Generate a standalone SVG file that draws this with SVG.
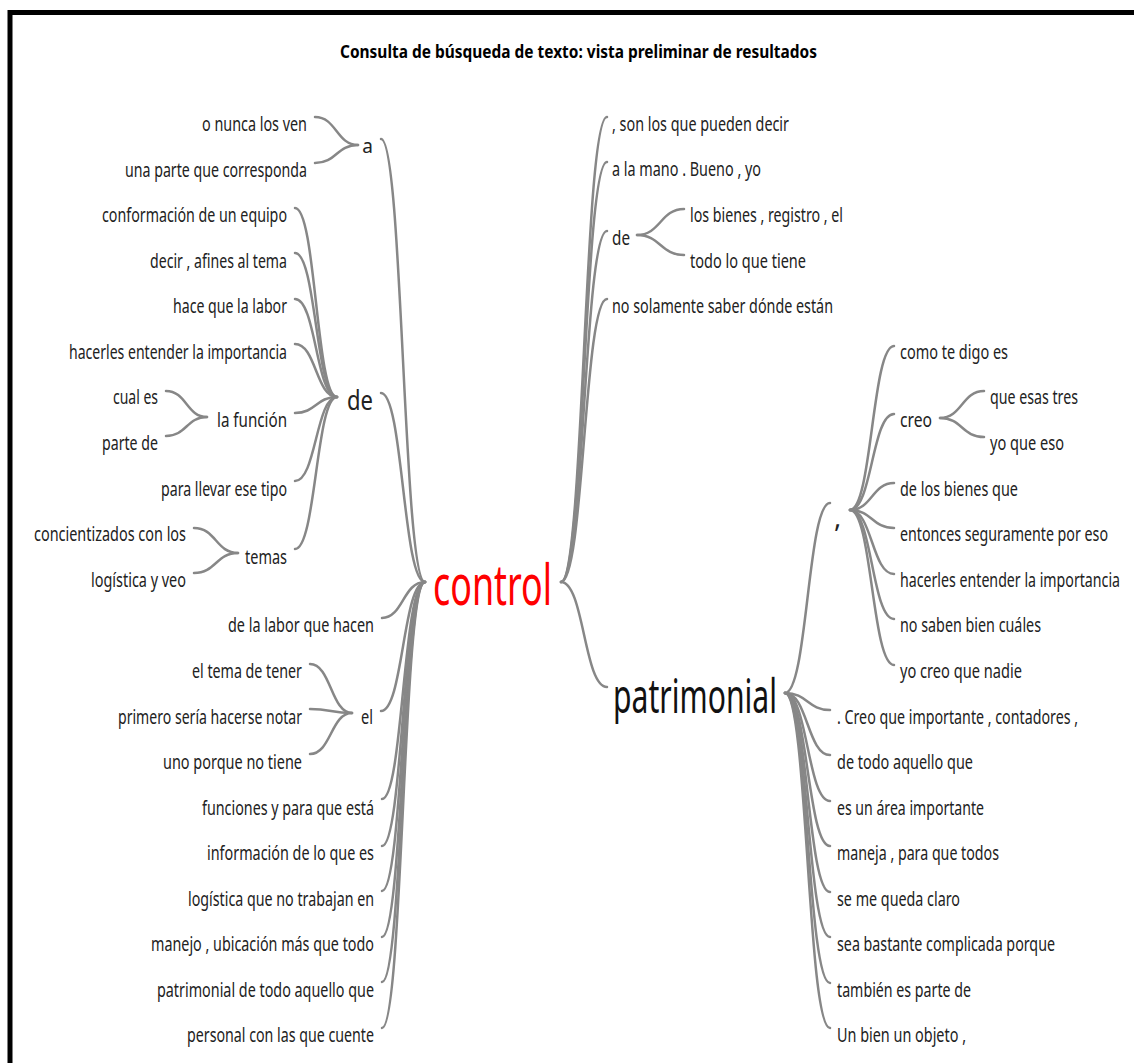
<svg xmlns="http://www.w3.org/2000/svg" width="1134" height="1063" viewBox="0 0 1134 1063">
<style>
.t{font-family:"Noto Sans","Open Sans",sans-serif;font-size:19px;fill:#222}
.l{text-anchor:end}
.m{font-size:27px}
.title{font-family:"Noto Sans","Open Sans",sans-serif;font-size:18px;font-weight:bold;fill:#000}
.c{fill:none;stroke:#878787;stroke-width:2.5;stroke-linecap:round}
</style>
<rect x="0" y="0" width="1134" height="1063" fill="#fff"/>
<path d="M10,1063 V12.5 H1134" fill="none" stroke="#000" stroke-width="5"/>
<text class="title" x="340" y="58" textLength="477" lengthAdjust="spacingAndGlyphs">Consulta de búsqueda de texto: vista preliminar de resultados</text>

<g id="connectors" class="c">
<path d="M315,117 C336.5,117 336.5,145 358,145"/>
<path d="M315,163 C336.5,163 336.5,145 358,145"/>
<path d="M381,139 C403,139 403,582 425,582"/>
<path d="M295,208 C316,208 316,397 337,397"/>
<path d="M295,253 C316,253 316,397 337,397"/>
<path d="M295,299 C316,299 316,397 337,397"/>
<path d="M295,344 C316,344 316,397 337,397"/>
<path d="M295,413 C316,413 316,397 337,397"/>
<path d="M295,481 C316,481 316,397 337,397"/>
<path d="M295,549 C316,549 316,397 337,397"/>
<path d="M166,391 C186.5,391 186.5,417 207,417"/>
<path d="M166,436 C186.5,436 186.5,417 207,417"/>
<path d="M194,528 C216,528 216,553 238,553"/>
<path d="M194,573 C216,573 216,553 238,553"/>
<path d="M381,393 C403,393 403,582 425,582"/>
<path d="M382,618 C403,618 403,582 425,582"/>
<path d="M310,664 C331,664 331,713 352,713"/>
<path d="M310,709 C331,709 331,713 352,713"/>
<path d="M310,754 C331,754 331,713 352,713"/>
<path d="M381,711 C403,711 403,582 425,582"/>
<path d="M382,799 C403,799 403,582 425,582"/>
<path d="M382,846 C403,846 403,582 425,582"/>
<path d="M382,891 C403,891 403,582 425,582"/>
<path d="M382,937 C403,937 403,582 425,582"/>
<path d="M382,982 C403,982 403,582 425,582"/>
<path d="M382,1028 C403,1028 403,582 425,582"/>
<path d="M561,582 C584,582 584,117 607,117"/>
<path d="M561,582 C584,582 584,162 607,162"/>
<path d="M561,582 C584,582 584,231 607,231"/>
<path d="M561,582 C584,582 584,299 607,299"/>
<path d="M561,582 C584,582 584,687 607,687"/>
<path d="M637,235 C660.5,235 660.5,209 684,209"/>
<path d="M637,235 C660.5,235 660.5,255 684,255"/>
<path d="M785,693 C807.5,693 807.5,503 830,503"/>
<path d="M785,693 C807.5,693 807.5,710 830,710"/>
<path d="M785,693 C807.5,693 807.5,755 830,755"/>
<path d="M785,693 C807.5,693 807.5,801 830,801"/>
<path d="M785,693 C807.5,693 807.5,846 830,846"/>
<path d="M785,693 C807.5,693 807.5,892 830,892"/>
<path d="M785,693 C807.5,693 807.5,937 830,937"/>
<path d="M785,693 C807.5,693 807.5,983 830,983"/>
<path d="M785,693 C807.5,693 807.5,1028 830,1028"/>
<path d="M850,510 C872,510 872,346 894,346"/>
<path d="M850,510 C872,510 872,414 894,414"/>
<path d="M850,510 C872,510 872,483 894,483"/>
<path d="M850,510 C872,510 872,528 894,528"/>
<path d="M850,510 C872,510 872,574 894,574"/>
<path d="M850,510 C872,510 872,619 894,619"/>
<path d="M850,510 C872,510 872,665 894,665"/>
<path d="M940,418 C962,418 962,391 984,391"/>
<path d="M940,418 C962,418 962,437 984,437"/>
</g>

<g id="n-control"><text class="t" x="433" y="605" style="font-size:56px;fill:#ff0000" textLength="119" lengthAdjust="spacingAndGlyphs">control</text></g>
<g id="n-patrimonial"><text class="t" x="613" y="713" style="font-size:47px;fill:#111" textLength="164" lengthAdjust="spacingAndGlyphs">patrimonial</text></g>

<g id="n-a"><text class="t l" x="373" y="153">a</text></g>
<g id="n-a1"><text class="t l" x="307" y="131" textLength="105" lengthAdjust="spacingAndGlyphs">o nunca los ven</text></g>
<g id="n-a2"><text class="t l" x="307" y="177" textLength="182" lengthAdjust="spacingAndGlyphs">una parte que corresponda</text></g>

<g id="n-de"><text class="t l m" x="373" y="410" textLength="26" lengthAdjust="spacingAndGlyphs">de</text></g>
<g id="n-de1"><text class="t l" x="287" y="222" textLength="185" lengthAdjust="spacingAndGlyphs">conformación de un equipo</text></g>
<g id="n-de2"><text class="t l" x="287" y="268" textLength="137" lengthAdjust="spacingAndGlyphs">decir , afines al tema</text></g>
<g id="n-de3"><text class="t l" x="287" y="313" textLength="114" lengthAdjust="spacingAndGlyphs">hace que la labor</text></g>
<g id="n-de4"><text class="t l" x="287" y="359" textLength="218" lengthAdjust="spacingAndGlyphs">hacerles entender la importancia</text></g>
<g id="n-lafuncion"><text class="t l" x="287" y="427" textLength="70" lengthAdjust="spacingAndGlyphs">la función</text></g>
<g id="n-lf1"><text class="t l" x="158" y="404" textLength="45" lengthAdjust="spacingAndGlyphs">cual es</text></g>
<g id="n-lf2"><text class="t l" x="158" y="450" textLength="56" lengthAdjust="spacingAndGlyphs">parte de</text></g>
<g id="n-de5"><text class="t l" x="287" y="496" textLength="126" lengthAdjust="spacingAndGlyphs">para llevar ese tipo</text></g>
<g id="n-temas"><text class="t l" x="287" y="564" textLength="42" lengthAdjust="spacingAndGlyphs">temas</text></g>
<g id="n-tm1"><text class="t l" x="186" y="541" textLength="152" lengthAdjust="spacingAndGlyphs">concientizados con los</text></g>
<g id="n-tm2"><text class="t l" x="186" y="587" textLength="95" lengthAdjust="spacingAndGlyphs">logística y veo</text></g>

<g id="n-l1"><text class="t l" x="374" y="632" textLength="146" lengthAdjust="spacingAndGlyphs">de la labor que hacen</text></g>
<g id="n-el"><text class="t l" x="373" y="724" textLength="12" lengthAdjust="spacingAndGlyphs">el</text></g>
<g id="n-el1"><text class="t l" x="302" y="678" textLength="110" lengthAdjust="spacingAndGlyphs">el tema de tener</text></g>
<g id="n-el2"><text class="t l" x="302" y="724" textLength="184" lengthAdjust="spacingAndGlyphs">primero sería hacerse notar</text></g>
<g id="n-el3"><text class="t l" x="302" y="769" textLength="139" lengthAdjust="spacingAndGlyphs">uno porque no tiene</text></g>
<g id="n-l2"><text class="t l" x="374" y="815" textLength="172" lengthAdjust="spacingAndGlyphs">funciones y para que está</text></g>
<g id="n-l3"><text class="t l" x="374" y="860" textLength="167" lengthAdjust="spacingAndGlyphs">información de lo que es</text></g>
<g id="n-l4"><text class="t l" x="374" y="906" textLength="186" lengthAdjust="spacingAndGlyphs">logística que no trabajan en</text></g>
<g id="n-l5"><text class="t l" x="374" y="951" textLength="223" lengthAdjust="spacingAndGlyphs">manejo , ubicación más que todo</text></g>
<g id="n-l6"><text class="t l" x="374" y="997" textLength="217" lengthAdjust="spacingAndGlyphs">patrimonial de todo aquello que</text></g>
<g id="n-l7"><text class="t l" x="374" y="1042" textLength="187" lengthAdjust="spacingAndGlyphs">personal con las que cuente</text></g>

<g id="n-r1"><text class="t" x="612" y="131" textLength="177" lengthAdjust="spacingAndGlyphs">, son los que pueden decir</text></g>
<g id="n-r2"><text class="t" x="612" y="176" textLength="149" lengthAdjust="spacingAndGlyphs">a la mano . Bueno , yo</text></g>
<g id="n-rde"><text class="t" x="612" y="245" textLength="18" lengthAdjust="spacingAndGlyphs">de</text></g>
<g id="n-rde1"><text class="t" x="690" y="222" textLength="153" lengthAdjust="spacingAndGlyphs">los bienes , registro , el</text></g>
<g id="n-rde2"><text class="t" x="690" y="268" textLength="116" lengthAdjust="spacingAndGlyphs">todo lo que tiene</text></g>
<g id="n-r3"><text class="t" x="612" y="313" textLength="221" lengthAdjust="spacingAndGlyphs">no solamente saber dónde están</text></g>

<g id="n-comma"><text class="t m" x="834" y="527">,</text></g>
<g id="n-c1"><text class="t" x="900" y="359" textLength="108" lengthAdjust="spacingAndGlyphs">como te digo es</text></g>
<g id="n-creo"><text class="t" x="900" y="427" textLength="32" lengthAdjust="spacingAndGlyphs">creo</text></g>
<g id="n-cr1"><text class="t" x="990" y="404" textLength="88" lengthAdjust="spacingAndGlyphs">que esas tres</text></g>
<g id="n-cr2"><text class="t" x="990" y="450" textLength="74" lengthAdjust="spacingAndGlyphs">yo que eso</text></g>
<g id="n-c2"><text class="t" x="900" y="496" textLength="118" lengthAdjust="spacingAndGlyphs">de los bienes que</text></g>
<g id="n-c3"><text class="t" x="900" y="541" textLength="208" lengthAdjust="spacingAndGlyphs">entonces seguramente por eso</text></g>
<g id="n-c4"><text class="t" x="900" y="587" textLength="220" lengthAdjust="spacingAndGlyphs">hacerles entender la importancia</text></g>
<g id="n-c5"><text class="t" x="900" y="632" textLength="141" lengthAdjust="spacingAndGlyphs">no saben bien cuáles</text></g>
<g id="n-c6"><text class="t" x="900" y="678" textLength="122" lengthAdjust="spacingAndGlyphs">yo creo que nadie</text></g>

<g id="n-p1"><text class="t" x="837" y="724" textLength="241" lengthAdjust="spacingAndGlyphs">. Creo que importante , contadores ,</text></g>
<g id="n-p2"><text class="t" x="837" y="769" textLength="136" lengthAdjust="spacingAndGlyphs">de todo aquello que</text></g>
<g id="n-p3"><text class="t" x="837" y="815" textLength="147" lengthAdjust="spacingAndGlyphs">es un área importante</text></g>
<g id="n-p4"><text class="t" x="837" y="860" textLength="162" lengthAdjust="spacingAndGlyphs">maneja , para que todos</text></g>
<g id="n-p5"><text class="t" x="837" y="906" textLength="123" lengthAdjust="spacingAndGlyphs">se me queda claro</text></g>
<g id="n-p6"><text class="t" x="837" y="951" textLength="218" lengthAdjust="spacingAndGlyphs">sea bastante complicada porque</text></g>
<g id="n-p7"><text class="t" x="837" y="997" textLength="134" lengthAdjust="spacingAndGlyphs">también es parte de</text></g>
<g id="n-p8"><text class="t" x="837" y="1042" textLength="129" lengthAdjust="spacingAndGlyphs">Un bien un objeto ,</text></g>
</svg>
